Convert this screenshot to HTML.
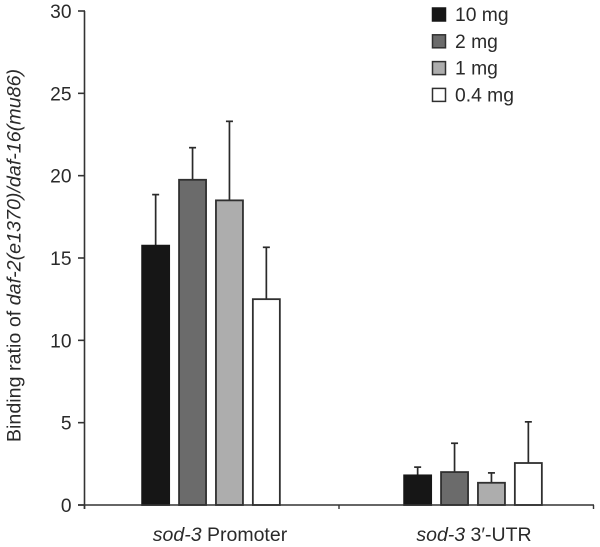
<!DOCTYPE html>
<html>
<head>
<meta charset="utf-8">
<style>
html,body{margin:0;padding:0;background:#fff;width:600px;height:547px;overflow:hidden}
svg{display:block;font-family:"Liberation Sans",sans-serif;fill:#2a2a2a}
</style>
</head>
<body>
<svg id="chart" width="600" height="547" viewBox="0 0 600 547" xmlns="http://www.w3.org/2000/svg"></svg>
<script>
const categories = ["sod-3 Promoter", "sod-3 3′-UTR"];
const seriesNames = ["10 mg", "2 mg", "1 mg", "0.4 mg"];
const promoterValues = [15.75, 19.75, 18.5, 12.5];
const utrValues = [1.8, 2.0, 1.35, 2.55];
const promoterErrorTops = [18.85, 21.7, 23.3, 15.65];
const utrErrorTops = [2.3, 3.75, 1.95, 5.05];
const yTickLabels = [0, 5, 10, 15, 20, 25, 30];

const svg = document.getElementById('chart');
const NS = 'http://www.w3.org/2000/svg';
const fills = ['#161616', '#6b6b6b', '#adadad', '#ffffff'];
const strokes = ['#161616', '#303030', '#303030', '#303030'];
const axisColor = '#333333';

function yScale(v) { return 505 - (v / 30) * 494; }
function groupCenter(c) { return 211 + c * 262; }
function barCenter(c, s) { return groupCenter(c) + (s - 1.5) * 36.9; }

function make(tag, attrs, parent) {
  const el = document.createElementNS(NS, tag);
  for (const k in attrs) el.setAttribute(k, attrs[k]);
  (parent || svg).appendChild(el);
  return el;
}

// Y axis
const yAxis = make('line', {x1: 84.5, x2: 84.5, y1: yScale(30), y2: yScale(0) + 4, stroke: axisColor, 'stroke-width': 1.6});



yTickLabels.forEach(function (t) {
  const y = yScale(t);
  const tick = make('line', {x1: 78, x2: 85, y1: y, y2: y, stroke: axisColor, 'stroke-width': 1.6});
  
  
  const label = make('text', {x: 71.5, y: y + 7, 'text-anchor': 'end', 'font-size': 19.2});
  label.textContent = t;
  
  
});

// Y axis title
const yTitle = make('text', {transform: 'translate(20.5,255.5) rotate(-90)', 'text-anchor': 'middle', 'font-size': 19.7});


const t1 = make('tspan', {}, yTitle);
t1.textContent = 'Binding ratio of ';
const t2 = make('tspan', {'font-style': 'italic'}, yTitle);
t2.textContent = 'daf-2(e1370)/daf-16(mu86)';

// Bars and error bars
[promoterValues, utrValues].forEach(function (values, c) {
  const tops = c === 0 ? promoterErrorTops : utrErrorTops;
  values.forEach(function (v, s) {
    const cx = barCenter(c, s);
    const errLine = make('line', {x1: cx, x2: cx, y1: yScale(v), y2: yScale(tops[s]), stroke: '#2a2a2a', 'stroke-width': 1.7});
    
    
    const errCap = make('line', {x1: cx - 3.5, x2: cx + 3.5, y1: yScale(tops[s]), y2: yScale(tops[s]), stroke: '#2a2a2a', 'stroke-width': 1.7});
    
    
    const bar = make('rect', {x: cx - 13.5, y: yScale(v), width: 27, height: yScale(0) - yScale(v), fill: fills[s], stroke: strokes[s], 'stroke-width': 1.8});
    
    
  });
});

// X axis
const xAxis = make('line', {x1: 78, x2: 594, y1: yScale(0), y2: yScale(0), stroke: axisColor, 'stroke-width': 1.6});



[0, 1, 2].forEach(function (i) {
  const x = 84.5 + i * 254.5;
  const tick = make('line', {x1: x, x2: x, y1: yScale(0), y2: yScale(0) + 4, stroke: axisColor, 'stroke-width': 1.4});
  
  
});

// Category labels
categories.forEach(function (name, c) {
  const label = make('text', {x: c === 0 ? 220 : 474, y: 541, 'text-anchor': 'middle', 'font-size': 19.5});
  
  
  const parts = name.split(' ');
  const it = make('tspan', {'font-style': 'italic'}, label);
  it.textContent = parts[0];
  const rest = make('tspan', {}, label);
  rest.textContent = ' ' + parts.slice(1).join(' ');
});

// Legend
seriesNames.forEach(function (name, s) {
  const cy = 14.5 + s * 26.8;
  const swatch = make('rect', {x: 432.5, y: cy - 6.5, width: 13, height: 13, fill: fills[s], stroke: strokes[s], 'stroke-width': 1.5});
  
  
  const label = make('text', {x: 455, y: cy + 6.5, 'font-size': 19.3});
  label.textContent = name;
  
  
});
</script>
</body>
</html>
